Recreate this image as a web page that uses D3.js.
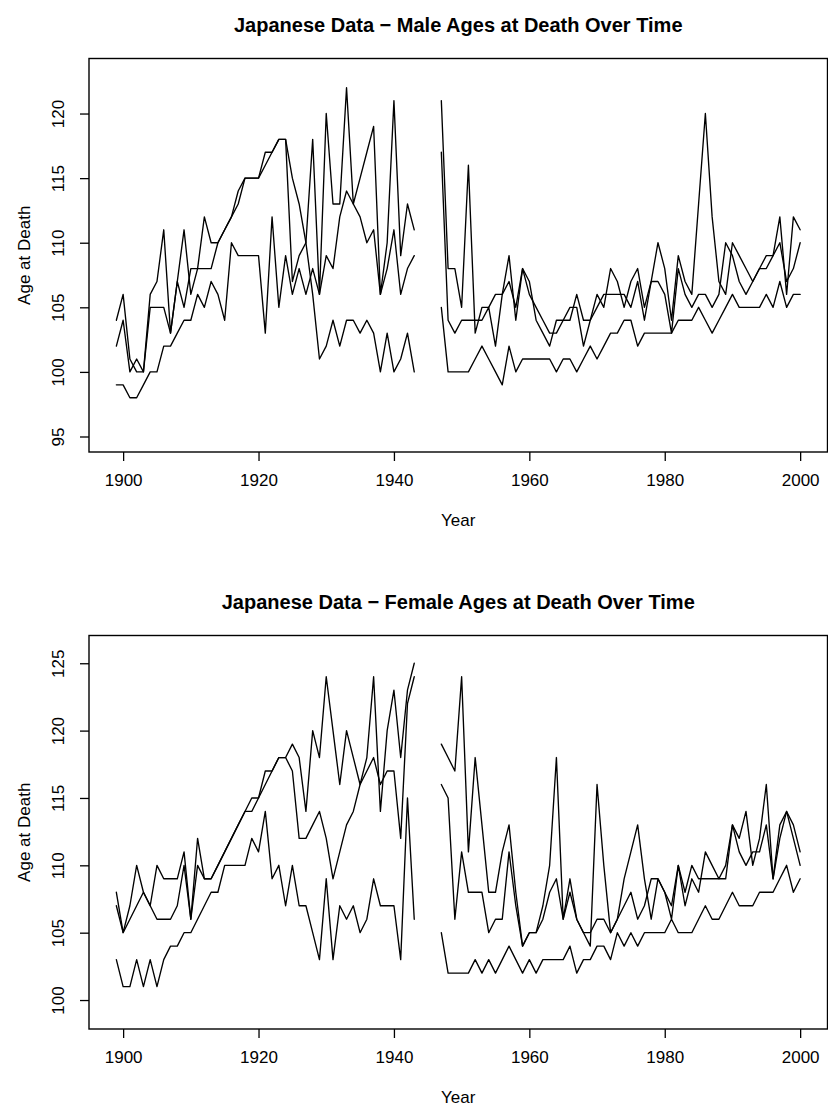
<!DOCTYPE html>
<html>
<head>
<meta charset="utf-8">
<script src="https://cdn.jsdelivr.net/npm/d3@7"></script>
<style>
  html, body { margin: 0; padding: 0; background: #fff; }
  svg { display: block; }
  text { font-family: "Liberation Sans", Arial, Helvetica, sans-serif; fill: #000; }
</style>
</head>
<body>
<svg id="chart" width="828" height="1108"></svg>
<script>
// Years covered by the record; no deaths recorded for the war-time gap.
const firstYear = 1899;
const lastYear = 2000;
const gapYears = [1944, 1945, 1946];

// Tick labels
const xTicks = [1900, 1920, 1940, 1960, 1980, 2000];
const maleYTicks = [95, 100, 105, 110, 115, 120];
const femaleYTicks = [100, 105, 110, 115, 120, 125];

// Male ages at death, 1899-1943
const malePreA = [104,106,101,100,100,106,107,111,103,107,111,106,108,112,110,110,111,112,114,115,115,115,117,117,118,118,107,109,110,118,106,120,113,113,122,113,115,117,119,106,110,121,109,113,111];
const malePreB = [102,104,100,101,100,105,105,105,103,107,105,108,108,108,108,110,111,112,113,115,115,115,116,117,118,118,115,113,110,106,101,102,104,102,104,104,103,104,103,100,103,100,101,103,100];
const malePreC = [99,99,98,98,99,100,100,102,102,103,104,104,106,105,107,106,104,110,109,109,109,109,103,112,105,109,106,108,106,108,106,109,108,112,114,113,112,110,111,106,108,111,106,108,109];
// Male ages at death, 1947-2000
const malePostA = [121,108,108,105,116,103,105,105,106,106,109,104,108,107,104,103,102,104,104,105,105,102,104,106,105,108,107,105,107,108,105,107,110,108,104,109,107,106,113,120,112,107,106,110,109,108,107,108,109,109,112,106,112,111];
const malePostB = [117,104,103,104,104,104,104,105,102,106,107,105,108,106,105,104,103,103,104,104,106,104,104,105,106,106,106,106,105,107,104,107,107,106,103,108,106,105,106,106,105,106,110,109,107,106,107,108,108,109,110,107,108,110];
const malePostC = [105,100,100,100,100,101,102,101,100,99,102,100,101,101,101,101,101,100,101,101,100,101,102,101,102,103,103,104,104,102,103,103,103,103,103,104,104,104,105,104,103,104,105,106,105,105,105,105,106,105,107,105,106,106];

// Female ages at death, 1899-1943
const femalePreA = [108,105,107,110,108,107,110,109,109,109,111,106,112,109,109,110,111,112,113,114,115,115,117,117,118,118,119,118,114,120,118,124,120,116,120,118,116,118,124,114,120,123,118,123,125];
const femalePreB = [107,105,106,107,108,107,106,106,106,107,110,106,110,109,109,110,111,112,113,114,114,115,116,117,118,118,117,112,112,113,114,112,109,111,113,114,116,117,118,116,117,117,112,122,124];
const femalePreC = [103,101,101,103,101,103,101,103,104,104,105,105,106,107,108,108,110,110,110,110,112,111,114,109,110,107,110,107,107,105,103,109,103,107,106,107,105,106,109,107,107,107,103,115,106];
// Female ages at death, 1947-2000
const femalePostA = [119,118,117,124,111,118,113,108,108,111,113,108,104,105,105,107,110,118,106,109,106,105,104,116,110,105,106,109,111,113,109,106,109,108,107,110,108,110,109,109,109,109,109,113,111,110,111,111,113,109,113,114,112,110];
const femalePostB = [116,115,106,111,108,108,108,105,106,106,111,107,104,105,105,106,108,109,106,108,106,105,105,106,106,105,106,107,108,106,107,109,109,108,106,110,107,109,108,111,110,109,110,113,112,114,110,112,116,109,112,114,113,111];
const femalePostC = [105,102,102,102,102,103,102,103,102,103,104,103,102,103,102,103,103,103,103,104,102,103,103,104,104,103,105,104,105,104,105,105,105,105,106,105,105,105,106,107,106,106,107,108,107,107,107,108,108,108,109,110,108,109];

// Join the pre-war and post-war runs into one yearly series, leaving the gap empty.
function joinSeries(pre, post) {
  const out = [];
  let y = firstYear;
  pre.forEach(v => out.push({ year: y++, value: v }));
  gapYears.forEach(g => { out.push({ year: g, value: null }); y++; });
  post.forEach(v => out.push({ year: y++, value: v }));
  return out;
}

const panels = [
  {
    title: "Japanese Data \u2212 Male Ages at Death Over Time",
    top: 58.5, bottom: 452,
    yDomain: [93.8, 124.26],
    yTicks: maleYTicks,
    series: [joinSeries(malePreA, malePostA), joinSeries(malePreB, malePostB), joinSeries(malePreC, malePostC)]
  },
  {
    title: "Japanese Data \u2212 Female Ages at Death Over Time",
    top: 635.5, bottom: 1029,
    yDomain: [97.85, 127.06],
    yTicks: femaleYTicks,
    series: [joinSeries(femalePreA, femalePostA), joinSeries(femalePreB, femalePostB), joinSeries(femalePreC, femalePostC)]
  }
];

const svg = d3.select("#chart");
const left = 89, right = 827.5;
const x = d3.scaleLinear().domain([1894.96, 2004.04]).range([left, right]);

panels.forEach(p => {
  const y = d3.scaleLinear().domain(p.yDomain).range([p.bottom, p.top]);
  const g = svg.append("g");

  // Data lines
  const line = d3.line()
    .defined(d => d.value !== null)
    .x(d => x(d.year))
    .y(d => y(d.value));
  g.selectAll("path.series")
    .data(p.series)
    .join("path")
    .attr("class", "series")
    .attr("d", line)
    .attr("fill", "none")
    .attr("stroke", "#000")
    .attr("stroke-width", 1.35)
    .attr("stroke-linejoin", "round")
    .attr("stroke-linecap", "round");

  // Plot frame
  g.append("rect")
    .attr("x", left).attr("y", p.top)
    .attr("width", right - left).attr("height", p.bottom - p.top)
    .attr("fill", "none").attr("stroke", "#000").attr("stroke-width", 1.4);

  // X axis
  const xAxis = g.append("g")
    .attr("transform", `translate(0,${p.bottom})`)
    .call(d3.axisBottom(x).tickValues(xTicks).tickFormat(d3.format("d")).tickSize(9).tickPadding(13));
  xAxis.select(".domain").remove();
  xAxis.selectAll("line").attr("stroke", "#000").attr("stroke-width", 1.3);
  xAxis.selectAll("text").attr("font-size", 17).attr("font-family", null);

  // Y axis, labels parallel to the axis
  const yAxis = g.append("g")
    .attr("transform", `translate(${left},0)`)
    .call(d3.axisLeft(y).tickValues(p.yTicks).tickSize(9));
  yAxis.select(".domain").remove();
  yAxis.selectAll("line").attr("stroke", "#000").attr("stroke-width", 1.3);
  yAxis.selectAll("text")
    .attr("font-size", 17).attr("font-family", null)
    .attr("transform", "rotate(-90)")
    .attr("text-anchor", "middle")
    .attr("x", 0).attr("y", -25).attr("dy", 0);

  // Titles
  g.append("text")
    .attr("x", (left + right) / 2).attr("y", p.top - 27)
    .attr("text-anchor", "middle")
    .attr("font-weight", "bold").attr("font-size", 20)
    .text(p.title);
  g.append("text")
    .attr("x", (left + right) / 2).attr("y", p.bottom + 73.5)
    .attr("text-anchor", "middle").attr("font-size", 17)
    .text("Year");
  g.append("text")
    .attr("transform", `translate(30,${(p.top + p.bottom) / 2}) rotate(-90)`)
    .attr("text-anchor", "middle").attr("font-size", 17)
    .text("Age at Death");
});
</script>
</body>
</html>
